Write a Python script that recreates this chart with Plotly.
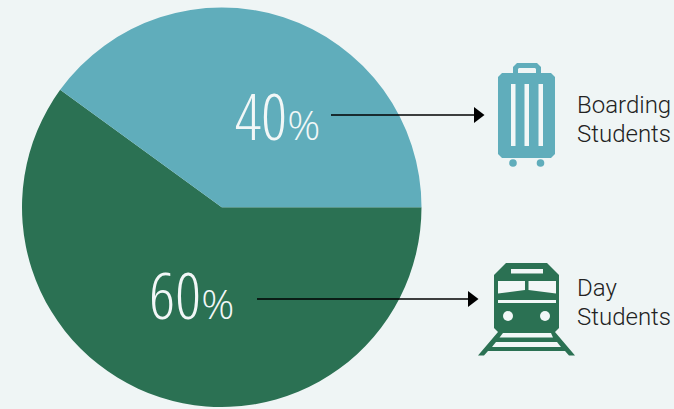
import plotly.graph_objects as go

W, H = 674, 409
categories = ["Day Students", "Boarding Students"]
values = [60, 40]
colors = ["#2b7153", "#60adbb"]
BG = "#eff5f5"
WHITE = "#f2f7f7"

def px(x): return x / W
def py(y): return 1 - y / H

def poly(points, fill):
    d = "M" + " L".join(f"{px(x):.5f},{py(y):.5f}" for x, y in points) + " Z"
    return dict(type="path", xref="paper", yref="paper", path=d, fillcolor=fill, line=dict(width=0), layer="above")

def rect(x0, y0, x1, y1, fill):
    return dict(type="rect", xref="paper", yref="paper", x0=px(x0), x1=px(x1), y0=py(y0), y1=py(y1),
                fillcolor=fill, line=dict(width=0), layer="above")

def circ(cx, cy, r, fill):
    return dict(type="circle", xref="paper", yref="paper", x0=px(cx-r), x1=px(cx+r), y0=py(cy-r), y1=py(cy+r),
                fillcolor=fill, line=dict(width=0), layer="above")

def hline(x0, x1, y):
    return dict(type="line", xref="paper", yref="paper", x0=px(x0), x1=px(x1), y0=py(y), y1=py(y),
                line=dict(color="#000000", width=1.3), layer="above")

fig = go.Figure(go.Pie(
    labels=categories, values=values, sort=False, direction="clockwise", rotation=90,
    marker=dict(colors=colors, line=dict(width=0)), textinfo="none", hoverinfo="label+percent",
    showlegend=False, domain=dict(x=[px(22), px(421.5)], y=[py(407), py(7.5)]),
))

blue, green = colors[1], colors[0]
shapes = [
    hline(331, 478, 115), poly([(474, 107), (484.5, 115), (474, 123)], "#000000"),
    hline(257, 472, 299), poly([(468, 291), (478.5, 299), (468, 307)], "#000000"),
    poly([(513, 73), (513, 67), (517, 63), (537, 63), (541, 67), (541, 73)], blue),
    poly([(518, 73), (518, 69), (519, 68), (535, 68), (536, 69), (536, 73)], BG),
    poly([(502, 73), (551, 73), (555, 77), (555, 154), (551, 158), (502, 158), (498, 154), (498, 77)], blue),
    rect(511, 84, 515.5, 146, WHITE), rect(524.5, 84, 529, 146, WHITE), rect(538.5, 84, 543, 146, WHITE),
    circ(513, 163, 3.8, blue), circ(540.5, 163, 3.8, blue),
    poly([(506, 263), (547, 263), (559, 275), (559, 328), (555, 332), (498, 332), (494, 328), (494, 275)], green),
    rect(511, 269, 543, 273.5, WHITE),
    poly([(498, 281), (525, 281), (525, 290), (498, 293.5)], WHITE),
    poly([(528.5, 281), (556, 281), (556, 293.5), (528.5, 290)], WHITE),
    rect(498, 300, 556, 303, WHITE),
    circ(508, 316, 5, WHITE), circ(545, 316, 5, WHITE),
    poly([(498, 332), (555, 332), (575, 355.5), (569, 355.5), (565, 351), (488, 351), (484, 355.5), (478, 355.5)], green),
    poly([(503, 333), (551, 333), (553, 337.5), (499.5, 337.5)], WHITE),
    poly([(496, 342), (557, 342), (561, 347), (492, 347)], WHITE),
]

def pct(v, cx, cy):
    return dict(xref="paper", yref="paper", x=px(cx), y=py(cy), xanchor="center", yanchor="middle", showarrow=False,
                text=f'<span style="font-size:64px;font-stretch:80%;font-weight:300">{v}</span>'
                     f'<span style="font-size:41px;font-stretch:88%;font-weight:300">%</span>',
                font=dict(family="Open Sans", color="#f2f7f7"))

def label(t, x, y):
    return dict(xref="paper", yref="paper", x=px(x), y=py(y), xanchor="left", yanchor="middle", showarrow=False,
                text=t, font=dict(family="Roboto", size=24, color="#222222", weight=300))

annotations = [
    pct(values[1], 277, 115), pct(values[0], 191, 294),
    label("Boarding", 574.5, 105), label("Students", 574.5, 134),
    label("Day", 574.5, 288), label("Students", 574.5, 317),
]

fig.update_layout(width=W, height=H, margin=dict(l=0, r=0, t=0, b=0), autosize=False,
                  paper_bgcolor=BG, plot_bgcolor=BG, shapes=shapes, annotations=annotations)
fig.write_html("out.html", config=dict(displayModeBar=False),
               post_script="document.body.style.margin='0';document.body.style.background='#eff5f5';")
